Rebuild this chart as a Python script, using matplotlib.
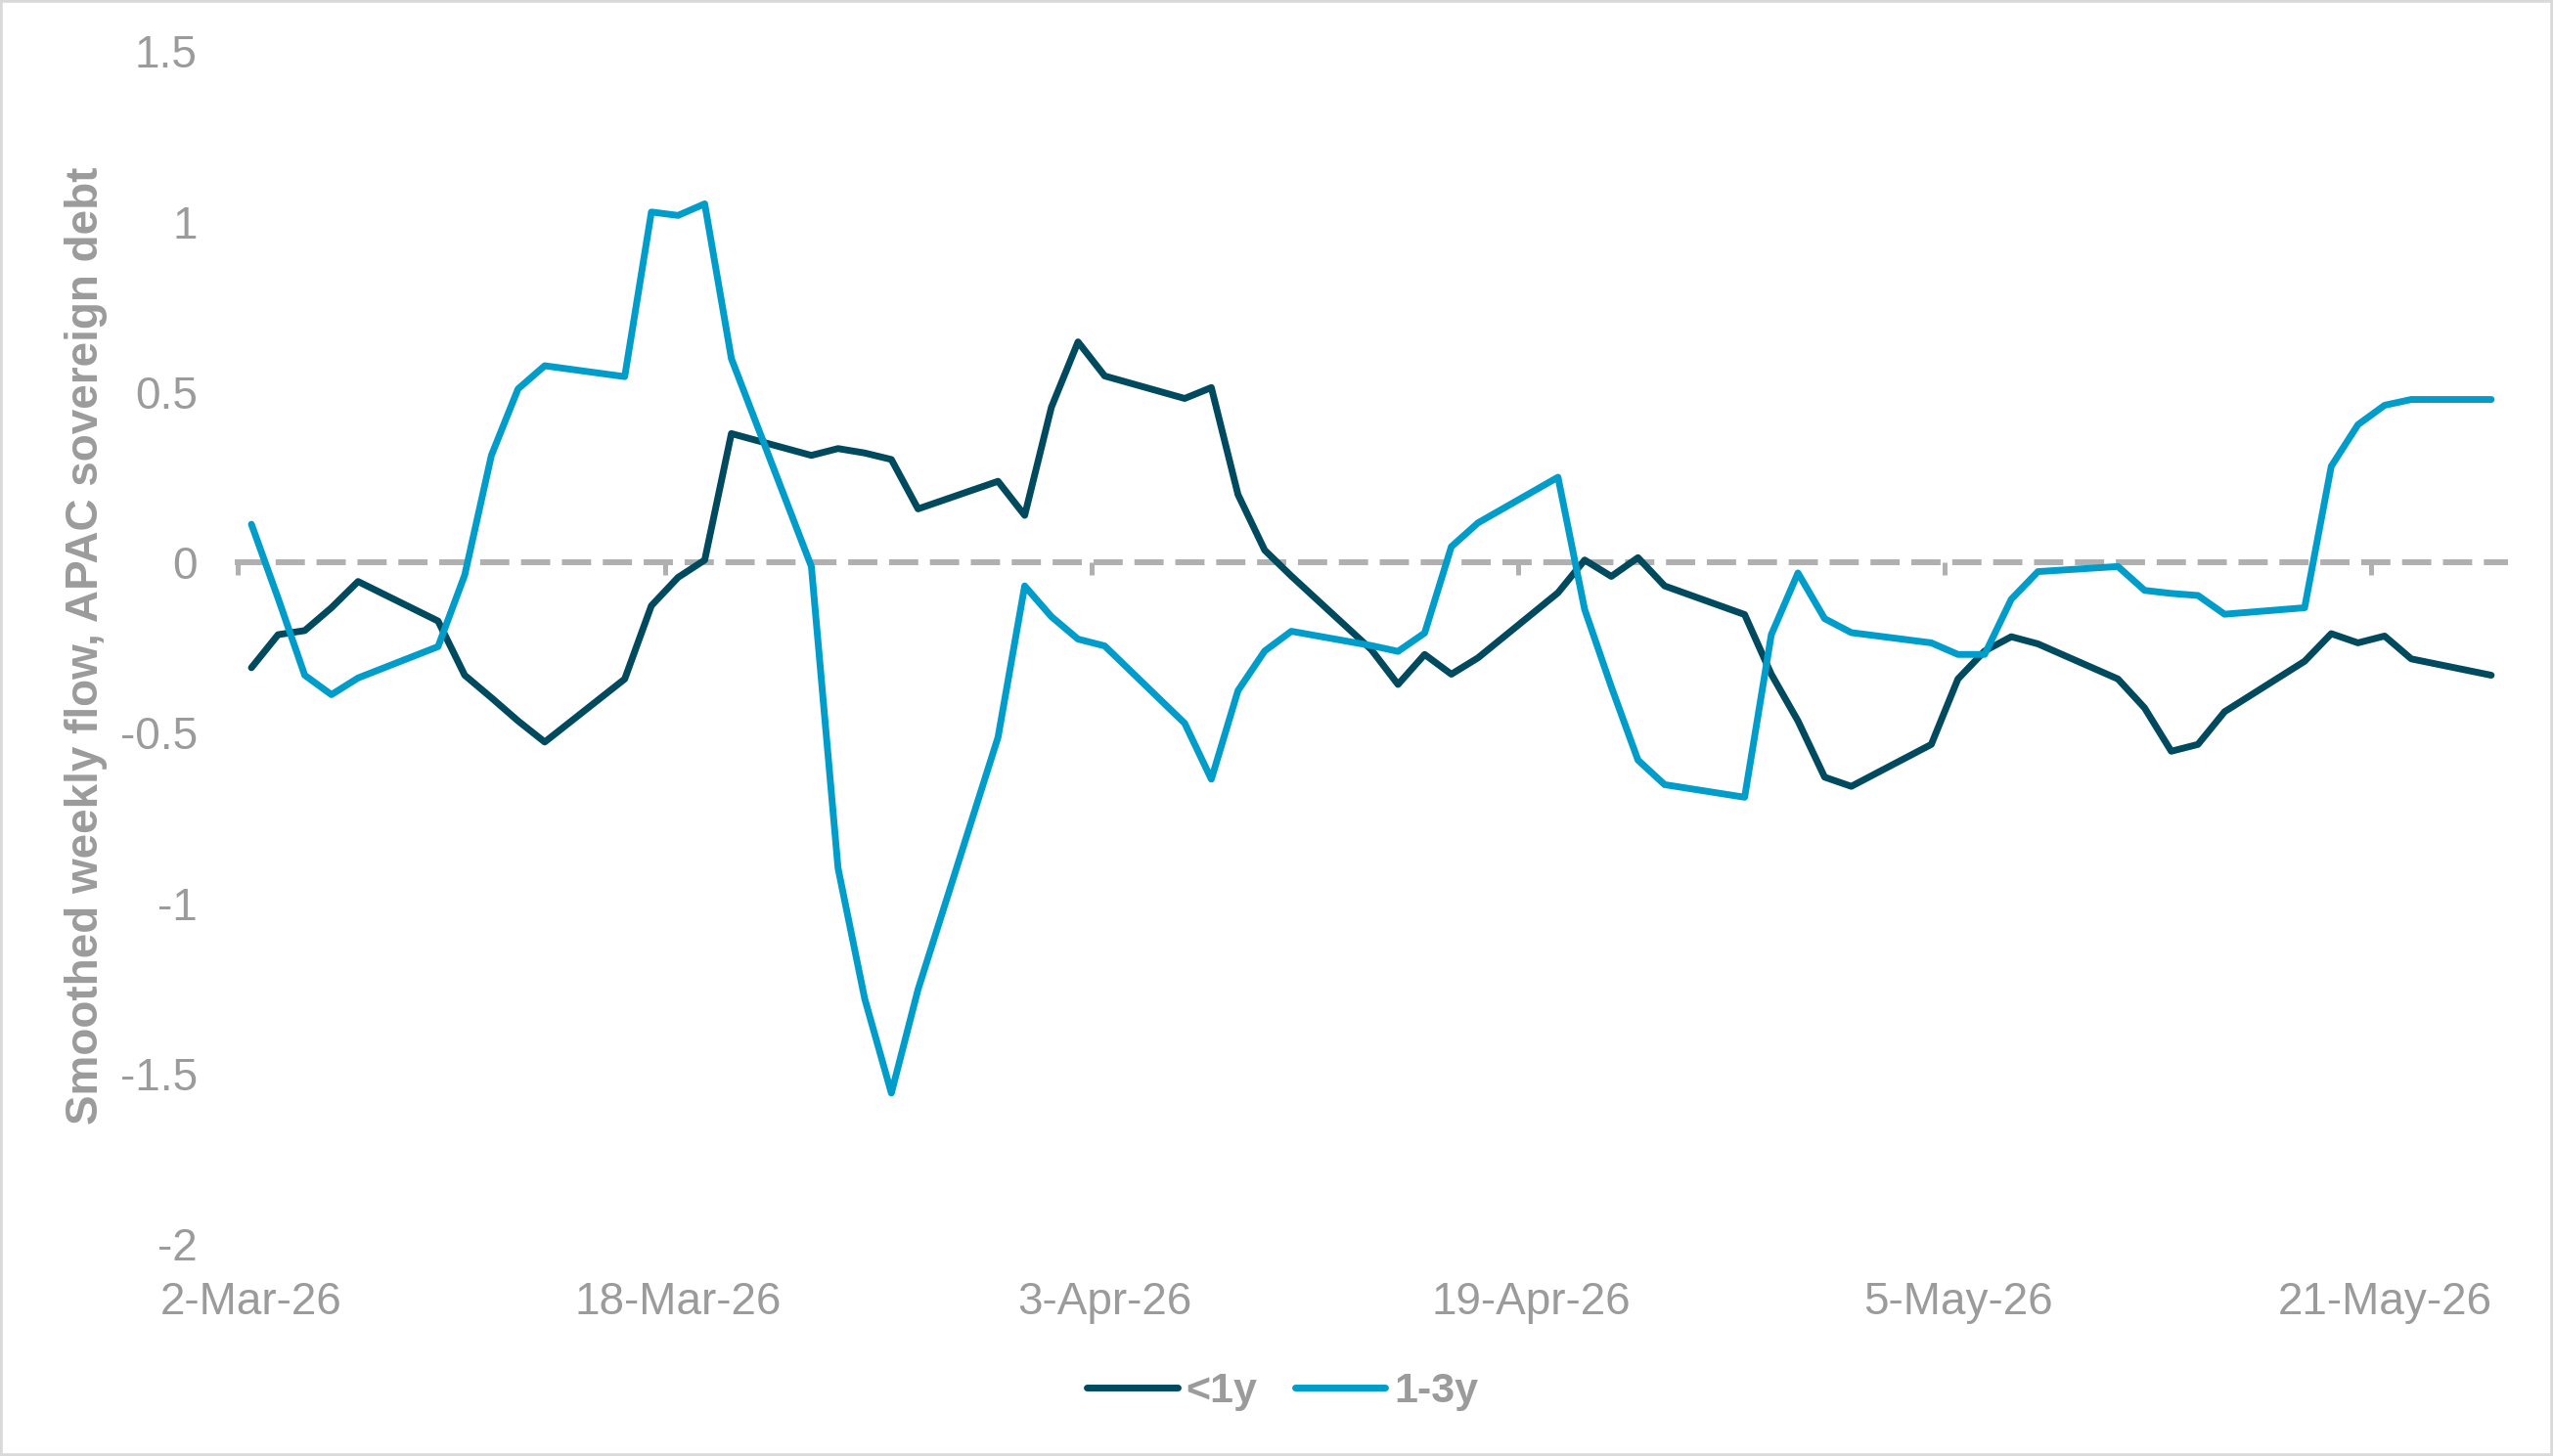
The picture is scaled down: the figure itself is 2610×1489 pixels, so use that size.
import numpy as np
import pandas as pd
import matplotlib
matplotlib.use('Agg')
import matplotlib.pyplot as plt
import matplotlib.dates as mdates
from matplotlib.ticker import FuncFormatter
from matplotlib.patches import Rectangle

plt.rcParams['font.family'] = ['Liberation Sans', 'DejaVu Sans']
plt.rcParams['axes.unicode_minus'] = False

# ---- data ----
dates = pd.bdate_range('2026-03-02', '2026-05-25')  # business days

lt_1y = [-0.309, -0.212, -0.200, -0.133, -0.056,
         -0.172, -0.331, -0.397, -0.465, -0.527,
         -0.342, -0.127, -0.044, 0.007, 0.378,
         0.314, 0.334, 0.321, 0.302, 0.157,
         0.238, 0.138, 0.455, 0.647, 0.547,
         0.481, 0.513, 0.199, 0.036, -0.040,
         -0.256, -0.358, -0.270, -0.328, -0.280,
         -0.089, 0.007, -0.041, 0.014, -0.069,
         -0.153, -0.328, -0.465, -0.630, -0.657,
         -0.534, -0.342, -0.260, -0.218, -0.239,
         -0.342, -0.427, -0.554, -0.534, -0.438,
         -0.290, -0.209, -0.236, -0.216, -0.283,
         -0.331]

y_1_3 = [0.112, -0.105, -0.331, -0.388, -0.339,
         -0.247, -0.037, 0.314, 0.509, 0.577,
         0.545, 1.028, 1.018, 1.052, 0.598,
         -0.012, -0.897, -1.280, -1.557, -1.253,
         -0.513, -0.069, -0.159, -0.225, -0.245,
         -0.472, -0.636, -0.376, -0.260, -0.202,
         -0.244, -0.261, -0.207, 0.046, 0.116,
         0.250, -0.138, -0.365, -0.580, -0.652,
         -0.689, -0.212, -0.031, -0.165, -0.206,
         -0.236, -0.270, -0.270, -0.108, -0.027,
         -0.012, -0.082, -0.091, -0.097, -0.152,
         -0.133, 0.282, 0.404, 0.461, 0.478,
         0.478]

series_names = ['<1y', '1-3y']
xtick_dates = ['2026-03-02', '2026-03-18', '2026-04-03', '2026-04-19', '2026-05-05', '2026-05-21']
xtick_labels = ['2-Mar-26', '18-Mar-26', '3-Apr-26', '19-Apr-26', '5-May-26', '21-May-26']
yticks = [-2, -1.5, -1, -0.5, 0, 0.5, 1, 1.5]
ylabel = 'Smoothed weekly flow, APAC sovereign debt'

# ---- style ----
DARK = '#004A60'
LIGHT = '#009DCB'
GREY_TXT = '#9B9B9B'
GRID = '#E6E6E6'
ZERO = '#B0B0B0'

W, H = 2610, 1489
fig = plt.figure(figsize=(W / 100, H / 100), dpi=100)
ax = fig.add_axes([243.4 / W, 1 - 1272.3 / H, (2560.5 - 243.4) / W, (1272.3 - 52.3) / H])

x = mdates.date2num(dates)
l1, = ax.plot(x, lt_1y, color=DARK, lw=5.0, solid_joinstyle='round',
              solid_capstyle='round', zorder=3, label=series_names[0])
l2, = ax.plot(x, y_1_3, color=LIGHT, lw=5.0, solid_joinstyle='round',
              solid_capstyle='round', zorder=3, label=series_names[1])

ax.set_xlim(x[0] - 0.5, x[-1] + 0.5)
ax.set_ylim(min(yticks), max(yticks))

# y axis
ax.set_yticks(yticks)
ax.yaxis.set_major_formatter(FuncFormatter(lambda v, p: f'{v:g}'))
ax.tick_params(axis='y', length=0, pad=30, labelsize=33, labelcolor=GREY_TXT)
ax.grid(axis='y', color=GRID, lw=2.2)
for t in ax.yaxis.get_major_ticks():
    if abs(t.get_loc()) < 1e-9:
        t.gridline.set_visible(False)
ax.set_axisbelow(True)

for s in ['left', 'right', 'top']:
    ax.spines[s].set_visible(False)

# dashed zero axis with tick stubs between date slots
ax.spines['bottom'].set_position(('data', 0))
ax.spines['bottom'].set_color(ZERO)
ax.spines['bottom'].set_linewidth(4.3)
ax.spines['bottom'].set_linestyle((0, (4, 3)))
tick_num = mdates.date2num(pd.to_datetime(xtick_dates))
ax.set_xticks(tick_num - 0.5)
ax.tick_params(axis='x', direction='out', length=9, width=3.6, color=ZERO, labelbottom=False)

# date labels at bottom
sec = ax.secondary_xaxis('bottom')
sec.set_xticks(tick_num, labels=xtick_labels)
sec.tick_params(length=0, pad=27, labelsize=33, labelcolor=GREY_TXT)
sec.spines['bottom'].set_visible(False)

fig.text(88 / W, 1 - 660 / H, ylabel, rotation=90, ha='center', va='center',
         fontsize=33, fontweight='bold', color=GREY_TXT)

fig.legend(handles=[l1, l2], labels=series_names, loc='center',
           bbox_to_anchor=(1311 / W, 1 - 1423 / H), ncol=2, frameon=False,
           prop={'size': 31, 'weight': 'bold'}, labelcolor=GREY_TXT,
           handlelength=2.15, handletextpad=0.2, columnspacing=0.9)

fig.add_artist(Rectangle((0, 0), 1, 1, transform=fig.transFigure, fill=False,
                         edgecolor='#D9D9D9', lw=4))

fig.savefig('out.png', dpi=100)
